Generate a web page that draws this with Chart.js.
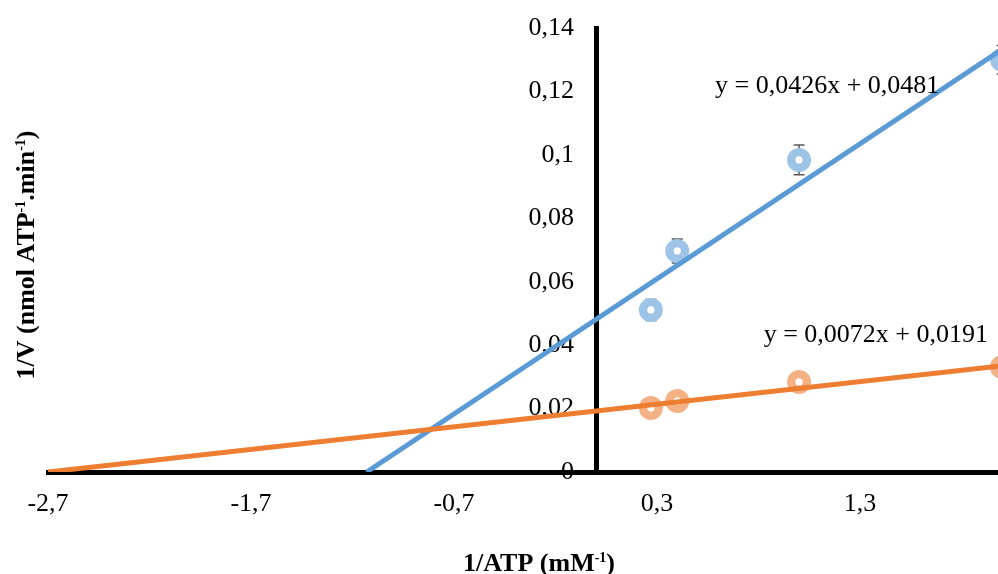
<!DOCTYPE html>
<html>
<head>
<meta charset="utf-8">
<script src="https://cdn.jsdelivr.net/npm/chart.js@4.4.1/dist/chart.umd.min.js"></script>
<style>
  html, body { margin: 0; padding: 0; background: #fff; overflow: hidden; }
  .chart-box { width: 998px; height: 574px; position: relative; }
</style>
</head>
<body>
<div class="chart-box"><canvas id="kineticsChart"></canvas></div>
<script>
// 1/[ATP] values (mM-1)
const inverseAtp = [0.27, 0.4, 1.0, 2.0];

// 1/V, blue series with error bars
const blueValues = [0.0511, 0.0697, 0.0984, 0.1300];
const blueErrors = [0.0033, 0.0038, 0.0047, 0.0045];

// 1/V, orange series
const orangeValues = [0.0202, 0.0224, 0.0284, 0.0331];
const orangeErrors = [0.0008, 0.0008, 0.0008, 0.0008];

// linear trendlines (ends)
const blueTrendX = [-1.13, 2.0];
const blueTrendY = [0, 0.1333];
const orangeTrendX = [-2.7, 2.0];
const orangeTrendY = [0, 0.0335];

const xTicks = [-2.7, -1.7, -0.7, 0.3, 1.3];
const yTicks = [0, 0.02, 0.04, 0.06, 0.08, 0.1, 0.12, 0.14];

const equationLabels = ["y = 0,0426x + 0,0481", "y = 0,0072x + 0,0191"];

const SERIF = "'Liberation Serif', 'Times New Roman', serif";
const BLUE = "#5B9BD5";
const BLUE_LIGHT = "#9DC3E6";
const ORANGE = "#ED7D31";
const ORANGE_LIGHT = "#F4B183";

// gap between the y axis line and its tick labels
const Y_LABEL_GAP = 22;

function toPoints(xs, ys) {
  return xs.map((x, i) => ({ x: x, y: ys[i] }));
}

function commaNumber(value) {
  return String(value).replace(".", ",");
}

// draws a string with superscript pieces, parts = [[text, isSup], ...]
function drawRichText(ctx, parts, x, y, size, bold) {
  const weight = bold ? "bold " : "";
  const supSize = Math.round(size * 0.55);
  let width = 0;
  parts.forEach(([text, sup]) => {
    ctx.font = weight + (sup ? supSize : size) + "px " + SERIF;
    width += ctx.measureText(text).width;
  });
  let cursor = x - width / 2;
  ctx.textAlign = "left";
  ctx.textBaseline = "alphabetic";
  parts.forEach(([text, sup]) => {
    ctx.font = weight + (sup ? supSize : size) + "px " + SERIF;
    ctx.fillText(text, cursor, sup ? y - size * 0.33 : y);
    cursor += ctx.measureText(text).width;
  });
}

// Chart.js puts labels of an axis placed at a value flush with the line,
// so move them left a bit
const yLabelShift = {
  id: "yLabelShift",
  beforeDraw(chart) {
    const items = chart.scales.y.getLabelItems();
    if (items._shifted) return;
    items.forEach(item => {
      item.options.translation[0] -= Y_LABEL_GAP;
    });
    items._shifted = true;
  }
};

const errorBarPlugin = {
  id: "errorBars",
  beforeDatasetsDraw(chart) {
    const ctx = chart.ctx;
    const xScale = chart.scales.x;
    const yScale = chart.scales.y;
    const sets = [[blueValues, blueErrors], [orangeValues, orangeErrors]];

    ctx.save();
    ctx.strokeStyle = "#595959";
    ctx.lineWidth = 1.5;
    sets.forEach(([values, errors]) => {
      values.forEach((v, i) => {
        const px = xScale.getPixelForValue(inverseAtp[i]);
        const top = yScale.getPixelForValue(v + errors[i]);
        const bottom = yScale.getPixelForValue(v - errors[i]);
        ctx.beginPath();
        ctx.moveTo(px, top);
        ctx.lineTo(px, bottom);
        ctx.moveTo(px - 5.5, top);
        ctx.lineTo(px + 5.5, top);
        ctx.moveTo(px - 5.5, bottom);
        ctx.lineTo(px + 5.5, bottom);
        ctx.stroke();
      });
    });
    ctx.restore();
  }
};

const textPlugin = {
  id: "chartTexts",
  afterDraw(chart) {
    const ctx = chart.ctx;
    ctx.save();
    ctx.fillStyle = "#000";

    ctx.font = "26px " + SERIF;
    ctx.textBaseline = "alphabetic";
    ctx.textAlign = "left";
    ctx.fillText(equationLabels[0], 715, 93);
    ctx.textAlign = "right";
    ctx.fillText(equationLabels[1], 988, 342);

    // x axis title
    drawRichText(ctx, [["1/ATP (mM", false], ["-1", true], [")", false]], 539, 571, 26, true);

    // y axis title
    ctx.translate(34, 255);
    ctx.rotate(-Math.PI / 2);
    drawRichText(ctx, [["1/V (nmol ATP", false], ["-1", true], [".min", false], ["-1", true], [")", false]], 0, 0, 26, true);
    ctx.restore();
  }
};

new Chart(document.getElementById("kineticsChart"), {
  type: "scatter",
  data: {
    datasets: [
      {
        type: "line",
        data: toPoints(orangeTrendX, orangeTrendY),
        borderColor: ORANGE,
        borderWidth: 5,
        pointRadius: 0,
        fill: false,
        order: 0
      },
      {
        type: "line",
        data: toPoints(blueTrendX, blueTrendY),
        borderColor: BLUE,
        borderWidth: 5,
        pointRadius: 0,
        fill: false,
        order: 0
      },
      {
        data: toPoints(inverseAtp, blueValues),
        pointRadius: 7.8,
        pointBorderWidth: 8.4,
        pointBackgroundColor: "#fff",
        pointBorderColor: BLUE_LIGHT,
        order: 1
      },
      {
        data: toPoints(inverseAtp, orangeValues),
        pointRadius: 7.8,
        pointBorderWidth: 8.4,
        pointBackgroundColor: "#fff",
        pointBorderColor: ORANGE_LIGHT,
        order: 1
      }
    ]
  },
  options: {
    responsive: true,
    maintainAspectRatio: false,
    animation: false,
    layout: {
      autoPadding: false,
      padding: { left: 48, top: 28, right: 0, bottom: 102 }
    },
    plugins: {
      legend: { display: false },
      tooltip: { enabled: false }
    },
    scales: {
      x: {
        type: "linear",
        min: -2.7,
        max: 1.98,
        position: { y: 0 },
        afterBuildTicks: scale => {
          scale.ticks = xTicks.map(v => ({ value: v }));
        },
        grid: { display: false, drawTicks: false },
        border: { display: true, color: "#000", width: 5 },
        ticks: {
          padding: 17,
          color: "#000",
          font: { family: SERIF, size: 26 },
          maxRotation: 0,
          callback: value => commaNumber(value)
        }
      },
      y: {
        type: "linear",
        min: 0,
        max: 0.14,
        position: { x: 0 },
        afterBuildTicks: scale => {
          scale.ticks = yTicks.map(v => ({ value: v }));
        },
        grid: { display: false, drawTicks: false },
        border: { display: true, color: "#000", width: 5 },
        ticks: {
          padding: 0,
          color: "#000",
          font: { family: SERIF, size: 26 },
          callback: value => commaNumber(value)
        }
      }
    }
  },
  plugins: [yLabelShift, errorBarPlugin, textPlugin]
});
</script>
</body>
</html>
